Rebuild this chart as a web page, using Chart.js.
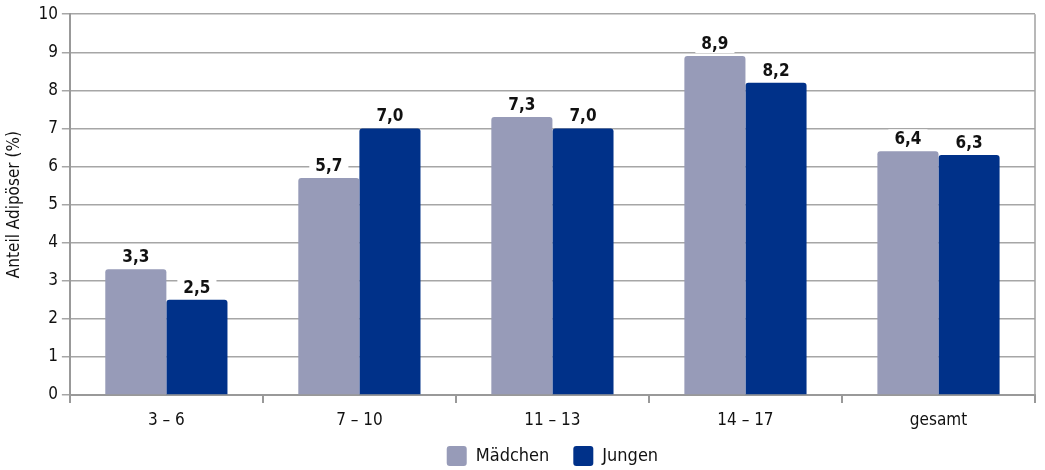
<!DOCTYPE html>
<html lang="de">
<head>
<meta charset="utf-8">
<script src="https://cdn.jsdelivr.net/npm/chart.js@4"></script>
<style>
  html, body { margin: 0; padding: 0; background: #fff; }
  #wrap { width: 1045px; height: 470px; position: relative; }
</style>
</head>
<body>
<div id="wrap"><canvas id="c"></canvas></div>
<script>
// Altersgruppen und Anteile adipöser Kinder und Jugendlicher (%)
const categories = ['3 – 6', '7 – 10', '11 – 13', '14 – 17', 'gesamt'];
const girls = [3.3, 5.7, 7.3, 8.9, 6.4];
const boys = [2.5, 7.0, 7.0, 8.2, 6.3];
const yTicks = [0, 1, 2, 3, 4, 5, 6, 7, 8, 9, 10];

const FONT = '"Liberation Sans Narrow", "DejaVu Sans Condensed", "DejaVu Sans", sans-serif';
const LEGEND_LIFT = 9; // Legendeneinträge etwas näher an die Achse rücken

// Wert über jedem Balken mit weißem Hintergrund (Dezimalkomma)
const valueLabels = {
  id: 'valueLabels',
  afterDatasetsDraw(chart) {
    const ctx = chart.ctx;
    ctx.save();
    ctx.font = 'bold 17px ' + FONT;
    ctx.textAlign = 'center';
    ctx.textBaseline = 'alphabetic';
    chart.data.datasets.forEach((ds, i) => {
      chart.getDatasetMeta(i).data.forEach((bar, j) => {
        const txt = ds.data[j].toFixed(1).replace('.', ',');
        const w = ctx.measureText(txt).width + 12;
        const base = bar.y - 7;
        ctx.fillStyle = '#fff';
        ctx.fillRect(bar.x - w / 2, base - 15, w, 19);
        ctx.fillStyle = '#111';
        ctx.fillText(txt, bar.x, base);
      });
    });
    ctx.restore();
  }
};

// rechte Rahmenlinie des Diagrammbereichs
const rightBorder = {
  id: 'rightBorder',
  beforeDatasetsDraw(chart) {
    const { ctx, chartArea } = chart;
    ctx.save();
    ctx.strokeStyle = '#a0a0a0';
    ctx.lineWidth = 1.5;
    ctx.beginPath();
    ctx.moveTo(chartArea.right, chartArea.top);
    ctx.lineTo(chartArea.right, chartArea.bottom);
    ctx.stroke();
    ctx.restore();
  }
};

// Legende beim Zeichnen leicht nach oben versetzen
const legendLift = {
  id: 'legendLift',
  afterInit(chart) {
    const lg = chart.legend;
    if (!lg) return;
    const draw = lg.draw;
    lg.draw = function (area) {
      const t = this.top;
      this.top = t - LEGEND_LIFT;
      draw.call(this, area);
      this.top = t;
    };
  }
};

new Chart(document.getElementById('c'), {
  type: 'bar',
  data: {
    labels: categories,
    datasets: [
      {
        label: 'Mädchen',
        data: girls,
        backgroundColor: '#979bb8',
        borderRadius: { topLeft: 3, topRight: 3 },
        borderSkipped: 'bottom',
        categoryPercentage: 0.633,
        barPercentage: 1.0
      },
      {
        label: 'Jungen',
        data: boys,
        backgroundColor: '#003189',
        borderRadius: { topLeft: 3, topRight: 3 },
        borderSkipped: 'bottom',
        categoryPercentage: 0.633,
        barPercentage: 1.0
      }
    ]
  },
  options: {
    responsive: true,
    maintainAspectRatio: false,
    animation: false,
    layout: { padding: { top: 14, right: 10, left: 4, bottom: -15 } },
    plugins: {
      legend: {
        position: 'bottom',
        fullSize: false,
        labels: {
          font: { family: FONT, size: 18 },
          color: '#111',
          boxWidth: 20,
          boxHeight: 20,
          useBorderRadius: true,
          borderRadius: 3,
          padding: 24
        }
      },
      tooltip: { enabled: false }
    },
    scales: {
      x: {
        afterFit(scale) { scale.height = 36; },
        grid: {
          offset: true,
          drawOnChartArea: false,
          drawTicks: true,
          tickLength: 8,
          color: '#999',
          lineWidth: 2
        },
        border: { color: '#999', width: 2 },
        ticks: {
          font: { family: FONT, size: 17 },
          color: '#111',
          padding: 7
        }
      },
      y: {
        min: 0,
        max: 10,
        afterBuildTicks(axis) {
          axis.ticks = yTicks.map(v => ({ value: v }));
        },
        grid: {
          color: '#a6a6a6',
          lineWidth: 1.5,
          tickLength: 8,
          drawTicks: true
        },
        border: { color: '#999', width: 2 },
        ticks: {
          font: { family: FONT, size: 17 },
          color: '#111',
          padding: 4
        },
        title: {
          display: true,
          text: 'Anteil Adipöser (%)',
          font: { family: FONT, size: 17 },
          color: '#111',
          padding: { top: 0, bottom: 10 }
        }
      }
    }
  },
  plugins: [rightBorder, valueLabels, legendLift]
});
</script>
</body>
</html>
